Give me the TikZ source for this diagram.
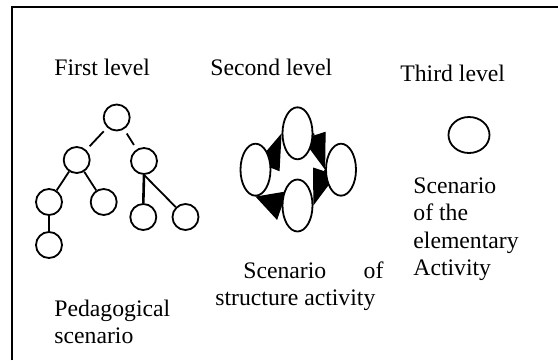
\documentclass[tikz,border=0pt]{standalone}
\usepackage{fontspec}
\setmainfont{Liberation Serif}
\usetikzlibrary{shapes.geometric,arrows.meta}
\pgfdeclarelayer{background}
\pgfsetlayers{background,main}
\begin{document}
\begin{tikzpicture}[x=0.5pt,y=-0.5pt,
  lbl/.style={anchor=base west, inner sep=0pt, font=\fontsize{11.85}{13.75}\selectfont},
  tnode/.style={circle, draw, line width=0.9pt, minimum size=13pt, inner sep=0pt, fill=white},
  enode/.style={ellipse, draw, line width=0.9pt, minimum width=15pt, minimum height=26pt, inner sep=0pt, fill=white},
  tedge/.style={line width=0.9pt},
  cyc/.style={line width=0.6pt, -{Triangle[length=18pt,width=12pt]}}
]
\useasboundingbox (0,0) rectangle (558,360);
\draw[line width=1pt] (12,360) -- (12,7) -- (558,7);

% titles
\node[lbl] (t1) at (54,75) {First level};
\node[lbl] (t2) at (210,75) {Second level};
\node[lbl] (t3) at (400,81) {Third level};

% captions
\node[lbl] (c1) at (54,316) {\parbox[t]{60pt}{Pedagogical\\scenario}};
\node[lbl] (c2) at (215,278) {\parbox[t]{84pt}{\hspace*{14pt}Scenario\hskip 0pt plus 1fill of\\structure activity}};
\node[lbl] (c3) at (413,193) {\parbox[t]{70pt}{Scenario\\of the\\elementary\\Activity}};

% first level tree
\node[tnode] (r)   at (116.7,117.5) {};
\node[tnode] (a)   at (76.7,160) {};
\node[tnode] (b)   at (144,161) {};
\node[tnode] (aa)  at (49,202) {};
\node[tnode] (ab)  at (103.7,202) {};
\node[tnode] (ba)  at (143.3,217) {};
\node[tnode] (bb)  at (185.5,217) {};
\node[tnode] (aaa) at (49,245) {};
\draw[tedge, shorten <=2.5pt, shorten >=2.5pt] (r) -- (a);
\draw[tedge, shorten <=2.5pt, shorten >=2.5pt] (r) -- (b);
\draw[tedge] (a) -- (aa);
\draw[tedge] (a) -- (ab);
\draw[tedge, line width=1.3pt] (b.south) -- (ba.north);
\draw[tedge] (b.south) -- (bb);
\draw[tedge, line width=1.3pt] (aa) -- (aaa);

% second level cycle
\node[enode] (eT) at (297.5,133.3) {};
\node[enode] (eL) at (255.5,169.7) {};
\node[enode] (eR) at (341,169.7) {};
\node[enode] (eB) at (297.5,205.5) {};
\begin{pgfonlayer}{background}
\draw[cyc] (eL.30) -- (eT.west);
\draw[cyc] (eT.east) -- (eR.west);
\draw[cyc] (eR.west) -- (eB.east);
\draw[cyc, -{Triangle[length=14pt,width=15pt]}] (eB.west) -- (eL.south);
\end{pgfonlayer}

% third level
\node[ellipse, draw, line width=0.9pt, minimum width=20.5pt, minimum height=18pt, inner sep=0pt] (c) at (469,135) {};
\end{tikzpicture}
\end{document}
